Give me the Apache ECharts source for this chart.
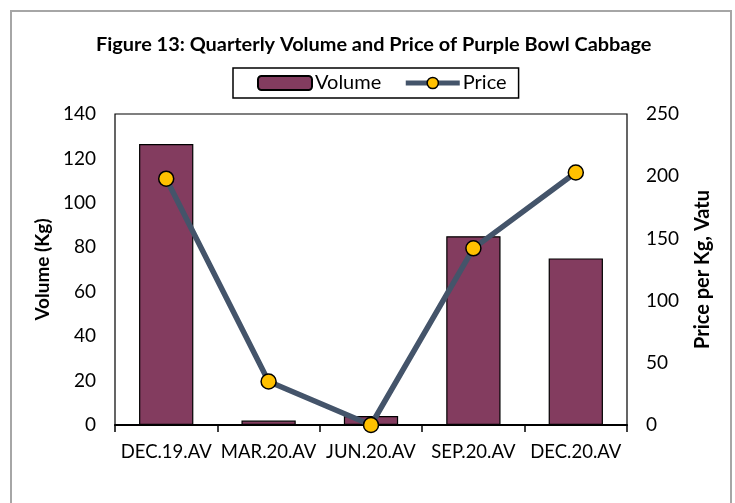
<!DOCTYPE html>
<html>
<head>
<meta charset="utf-8">
<script src="https://cdn.jsdelivr.net/npm/echarts@6/dist/echarts.min.js"></script>
<style>html,body{margin:0;padding:0;background:#fff;}#c{width:735px;height:503px;}</style>
</head>
<body>
<div id="c"></div>
<script>
const categories = ['DEC.19.AV', 'MAR.20.AV', 'JUN.20.AV', 'SEP.20.AV', 'DEC.20.AV'];
const volume = [126.5, 2, 4, 85, 75];
const price = [198, 35, 0, 142, 203];
const volumeTicks = [0, 20, 40, 60, 80, 100, 120, 140];
const priceTicks = [0, 50, 100, 150, 200, 250];

const FONT = 'Lato, "Open Sans", sans-serif';
const chart = echarts.init(document.getElementById('c'));
chart.setOption({
  animation: false,
  backgroundColor: '#fff',
  textStyle: { fontFamily: FONT, color: '#000' },
  graphic: [{
    type: 'rect', silent: true, z: -10,
    shape: { x: 11, y: 11, width: 720, height: 520 },
    style: { fill: 'none', stroke: '#A6A6A6', lineWidth: 2 }
  }],
  title: {
    text: 'Figure 13: Quarterly Volume and Price of Purple Bowl Cabbage',
    left: 96, top: 35, padding: 0,
    textStyle: { fontFamily: FONT, fontWeight: 'bold', fontSize: 19.9, color: '#000' }
  },
  legend: {
    left: 233, top: 68,
    padding: [5, 12, 5, 24],
    borderColor: '#000', borderWidth: 1.5,
    itemWidth: 54, itemHeight: 14, itemGap: 22,
    textStyle: { fontFamily: FONT, fontSize: 20, color: '#000', padding: [0, 0, 0, -2] },
    data: [
      { name: 'Volume', itemStyle: { color: '#833C5F', borderColor: '#000', borderWidth: 2 } },
      { name: 'Price', lineStyle: { color: '#44546A', width: 5 }, itemStyle: { color: '#FFC000', borderColor: '#000', borderWidth: 1.5 } }
    ]
  },
  grid: { left: 115, right: 108, top: 114, bottom: 78, show: true, borderColor: '#000', borderWidth: 1.2, containLabel: false },
  xAxis: {
    type: 'category', data: categories,
    axisLine: { lineStyle: { color: '#000', width: 2 } },
    axisTick: { show: true, length: 7, lineStyle: { color: '#000', width: 1.5 } },
    axisLabel: { fontFamily: FONT, fontSize: 18.5, color: '#000', margin: 18, interval: 0 }
  },
  yAxis: [{
    type: 'value', min: 0, max: 140, interval: 20,
    name: 'Volume (Kg)', nameLocation: 'middle', nameGap: 61,
    nameTextStyle: { fontFamily: FONT, fontSize: 19, fontWeight: 'bold', color: '#000' },
    axisLine: { show: false }, axisTick: { show: false }, splitLine: { show: false },
    axisLabel: { fontFamily: FONT, fontSize: 19, color: '#000', margin: 19,
      formatter: v => volumeTicks.includes(v) ? String(v) : '' }
  }, {
    type: 'value', min: 0, max: 250, interval: 50,
    name: 'Price per Kg, Vatu', nameLocation: 'middle', nameGap: 66,
    nameTextStyle: { fontFamily: FONT, fontSize: 20, fontWeight: 'bold', color: '#000' },
    axisLine: { show: false }, axisTick: { show: false }, splitLine: { show: false },
    axisLabel: { fontFamily: FONT, fontSize: 19, color: '#000', margin: 19,
      formatter: v => priceTicks.includes(v) ? String(v) : '' }
  }],
  series: [{
    name: 'Volume', type: 'bar', data: volume, yAxisIndex: 0, barWidth: '53%',
    itemStyle: { color: '#833C5F', borderColor: '#000', borderWidth: 1.2 }
  }, {
    name: 'Price', type: 'line', data: price, yAxisIndex: 1,
    symbol: 'circle', symbolSize: 15,
    lineStyle: { color: '#44546A', width: 5.5 },
    itemStyle: { color: '#FFC000', borderColor: '#000', borderWidth: 1.5 },
    z: 5
  }]
});
</script>
</body>
</html>
